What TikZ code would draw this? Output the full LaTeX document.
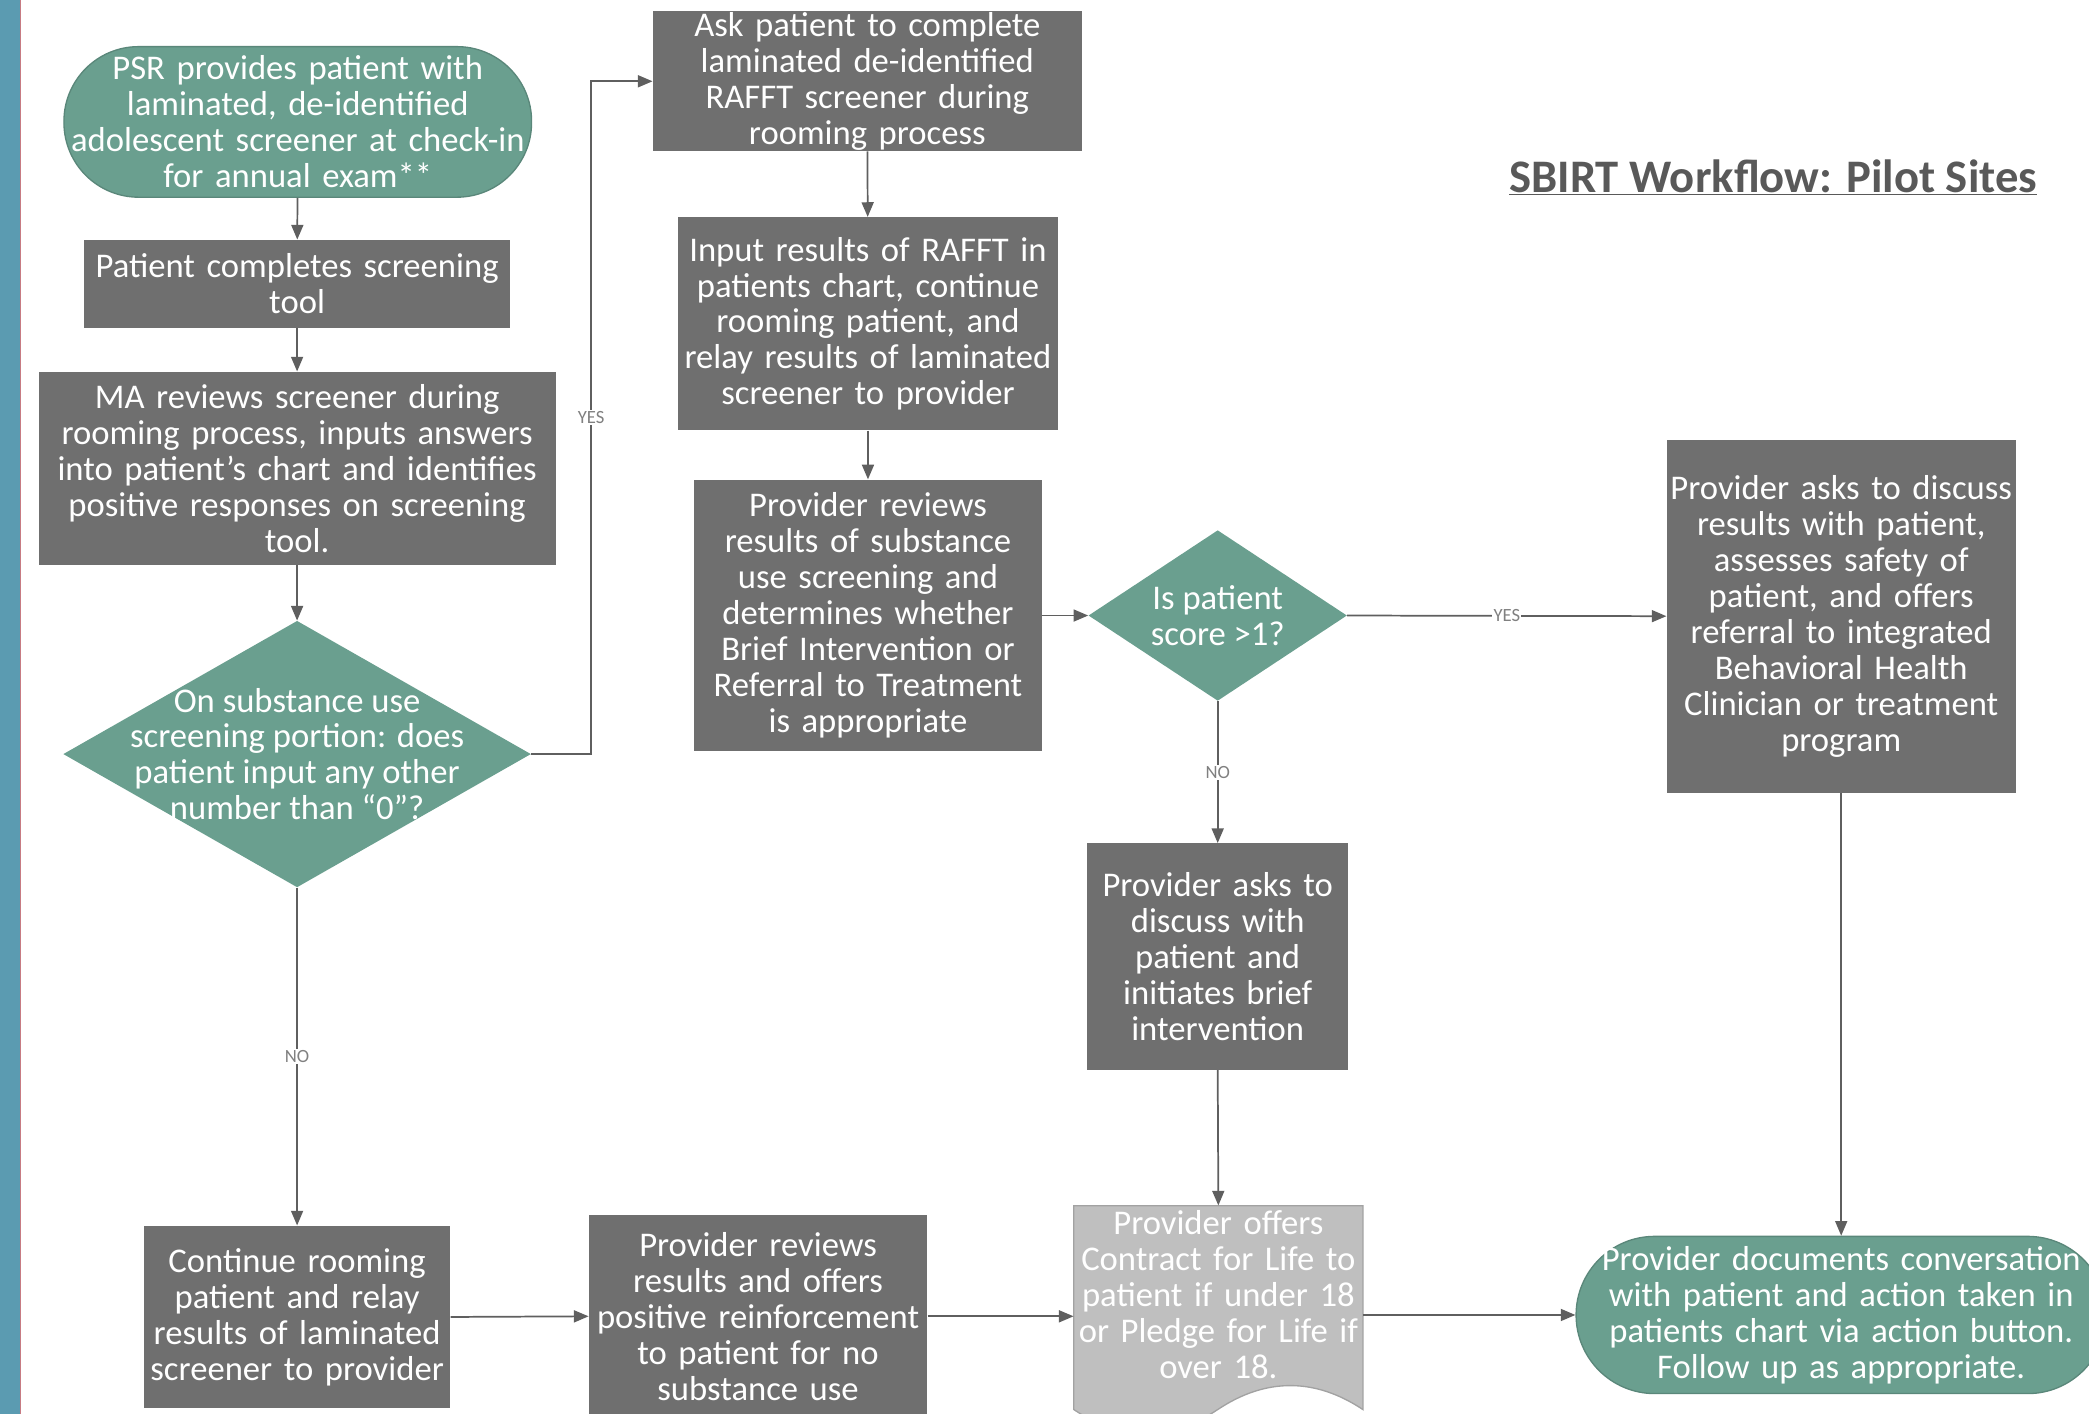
\documentclass[tikz,border=0pt]{standalone}
\usepackage{fontspec}
\setmainfont{Carlito}
\usetikzlibrary{arrows.meta,shapes.geometric}
\definecolor{flowteal}{HTML}{6A9F8F}
\definecolor{flowgray}{HTML}{6F6F6F}
\definecolor{docgray}{HTML}{BFBFBF}
\definecolor{linegray}{HTML}{5F5F5F}
\definecolor{titlegray}{HTML}{595959}
\definecolor{barblue}{HTML}{5B9BB1}
\definecolor{barred}{HTML}{C77B83}

\begin{document}
\begin{tikzpicture}[x=1pt, y=-1pt,
  procbox/.style={rectangle, fill=flowgray, text=white, align=center, inner sep=0pt, font=\fontsize{26}{27}\selectfont},
  termbox/.style={procbox, fill=flowteal, draw=flowteal!85!black, line width=1pt},
  decbox/.style={diamond, fill=flowteal, inner sep=0pt},
  dectext/.style={text=white, align=center, inner sep=0pt, font=\fontsize{26}{27}\selectfont},
  flowarrow/.style={draw=linegray, line width=1.3pt, -{Triangle[length=11pt,width=9pt]}},
  flowlabel/.style={fill=white, inner sep=1pt, text=gray, font=\fontsize{14}{14}\selectfont}]
  \useasboundingbox (0,0) rectangle (1568,1061);
  \fill[barblue] (0,0) rectangle (15,1061);
  \draw[barred, line width=1pt] (15.5,0) -- (15.5,1061);

  % left column
  \node[termbox, rounded corners=56pt, minimum width=351pt, minimum height=113pt, text width=351pt] (start) at (223.5,91.5) {PSR provides patient with\\laminated, de-identified\\adolescent screener at check-in\\for annual exam**};
  \node[procbox, minimum width=320pt, minimum height=66pt, text width=320pt] (comp) at (223,213) {Patient completes screening\\tool};
  \node[procbox, minimum width=388pt, minimum height=145pt, text width=388pt] (ma) at (223,351.5) {MA reviews screener during\\rooming process, inputs answers\\into patient’s chart and identifies\\positive responses on screening\\tool.};
  \node[decbox, minimum width=351pt, minimum height=200pt, label={[dectext]center:{On substance use\\screening portion: does\\patient input any other\\number than “0”?}}] (q1) at (223,566) {};
  \node[procbox, minimum width=230pt, minimum height=137pt, text width=230pt] (cont) at (223,988.5) {Continue rooming\\patient and relay\\results of laminated\\screener to provider};

  % middle column
  \node[procbox, minimum width=322pt, minimum height=105pt, text width=322pt] (ask) at (651,61) {Ask patient to complete\\laminated de-identified\\RAFFT screener during\\rooming process};
  \node[procbox, minimum width=285pt, minimum height=160pt, text width=285pt] (inp) at (651.5,243) {Input results of RAFFT in\\patients chart, continue\\rooming patient, and\\relay results of laminated\\screener to provider};
  \node[procbox, minimum width=261pt, minimum height=204pt, text width=261pt] (rev) at (651.5,462) {Provider reviews\\results of substance\\use screening and\\determines whether\\Brief Intervention or\\Referral to Treatment\\is appropriate};
  \node[procbox, minimum width=254pt, minimum height=152pt, text width=254pt] (reinf) at (569,988) {Provider reviews\\results and offers\\positive reinforcement\\to patient for no\\substance use};

  % right part
  \node[decbox, minimum width=194pt, minimum height=128pt, label={[dectext]center:{Is patient\\score >1?}}] (q2) at (914,462) {};
  \node[procbox, minimum width=196pt, minimum height=170pt, text width=196pt] (brief) at (914,718) {Provider asks to\\discuss with\\patient and\\initiates brief\\intervention};
  \fill[docgray, draw=docgray!85!black, line width=1pt] (806,905) -- (1023,905) -- (1023,1058) .. controls (987,1034) and (950,1034) .. (914,1058) .. controls (878,1082) and (842,1082) .. (806,1058) -- cycle;
  \node[procbox, fill=none, minimum width=217pt, minimum height=134pt, text width=217pt] (offer) at (914.5,972) {Provider offers\\Contract for Life to\\patient if under 18\\or Pledge for Life if\\over 18.};
  \node[procbox, minimum width=262pt, minimum height=265pt, text width=262pt] (refer) at (1382,462.5) {Provider asks to discuss\\results with patient,\\assesses safety of\\patient, and offers\\referral to integrated\\Behavioral Health\\Clinician or treatment\\program};
  \node[termbox, rounded corners=59pt, minimum width=398pt, minimum height=118pt, text width=398pt] (fin) at (1382,987) {Provider documents conversation\\with patient and action taken in\\patients chart via action button.\\Follow up as appropriate.};

  \node[text=titlegray, font=\bfseries\fontsize{35}{35}\selectfont] (title) at (1331,133) {\underline{SBIRT Workflow: Pilot Sites}};

  % connectors
  \draw[flowarrow] (start) -- (comp);
  \draw[flowarrow] (comp) -- (ma);
  \draw[flowarrow] (ma) -- (q1);
  \draw[flowarrow] (q1.east) -- ++(45,0) |- node[flowlabel, pos=0.25] (yes1) {YES} (ask.west);
  \draw[flowarrow] (q1.south) -- node[flowlabel] (no1) {NO} (cont.north);
  \draw[flowarrow] (ask) -- (inp);
  \draw[flowarrow] (inp) -- (rev);
  \draw[flowarrow] (rev.east) -- (q2.west);
  \draw[flowarrow] (q2.east) -- node[flowlabel] (yes2) {YES} (refer.west);
  \draw[flowarrow] (q2.south) -- node[flowlabel] (no2) {NO} (brief.north);
  \draw[flowarrow] (brief.south) -- (offer.north);
  \draw[flowarrow] (refer.south) -- (fin.north);
  \draw[flowarrow] (cont.east) -- (reinf.west);
  \draw[flowarrow] (reinf.east) -- (reinf.east -| offer.west);
  \draw[flowarrow] (offer.east |- fin.west) -- (fin.west);
\end{tikzpicture}
\end{document}
